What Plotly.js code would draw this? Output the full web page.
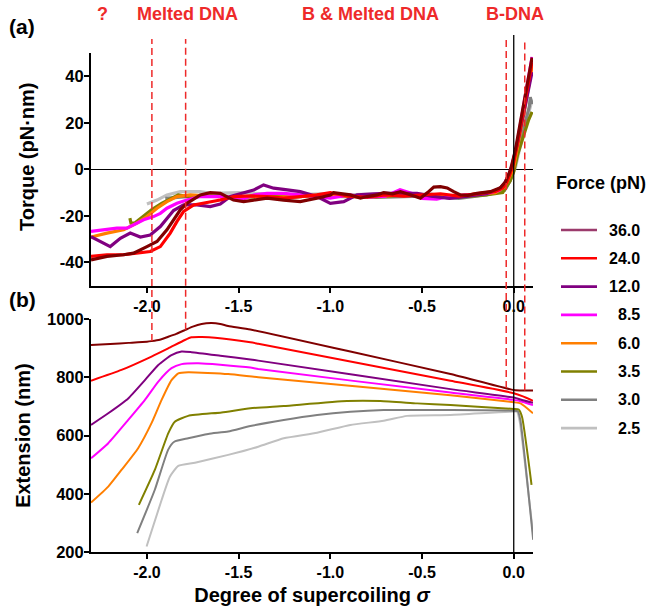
<!DOCTYPE html>
<html>
<head>
<meta charset="utf-8">
<script src="https://cdn.plot.ly/plotly-3.0.1.min.js"></script>
<style>html,body{margin:0;padding:0;background:#fff}</style>
</head>
<body>
<div id="chart" style="width:656px;height:612px"></div>
<script>
// Pulling force for each trace (pN) and its colour
const forces = ['36.0', '24.0', '12.0', '8.5', '6.0', '3.5', '3.0', '2.5'];
const curveColors = ['#800000', '#ff0000', '#800080', '#ff00ff', '#ff7f00', '#808000', '#808080', '#c0c0c0'];
const swatchColors = ['#9b3b6c', '#ff0000', '#800080', '#ff00ff', '#ff7f00', '#808000', '#808080', '#c0c0c0'];

// Axis ticks
const sigmaTicks = [-2.0, -1.5, -1.0, -0.5, 0.0];
const sigmaTickText = ['-2.0', '-1.5', '-1.0', '-0.5', '0.0'];
const torqueTicks = [-40, -20, 0, 20, 40];
const torqueTickText = ['-40', '-20', '0', '20', '40'];
const extTicks = [200, 400, 600, 800, 1000];
const extTickText = ['200', '400', '600', '800', '1000'];

// Phase boundaries (sigma) and region labels
const phaseBounds = [-1.973, -1.789, -0.041, 0.060];
const phaseLabels = ['?', 'Melted DNA', 'B &amp; Melted DNA', 'B-DNA'];

// Torque (pN·nm) vs supercoiling density, [sigma, torque]
const torque36 = [[-2.305,-38.9],[-2.218,-37.4],[-2.128,-36.7],[-2.073,-36.0],[-2.0,-33.2],[-1.945,-31.0],[-1.891,-26.0],[-1.855,-21.7],[-1.818,-17.4],[-1.782,-14.6],[-1.709,-11.0],[-1.655,-10.0],[-1.6,-10.3],[-1.528,-13.2],[-1.473,-13.9],[-1.418,-13.2],[-1.345,-12.4],[-1.255,-13.2],[-1.164,-13.9],[-1.073,-12.4],[-1.0,-11.0],[-0.982,-10.0],[-0.927,-10.5],[-0.891,-11.0],[-0.836,-12.4],[-0.8,-11.7],[-0.745,-11.0],[-0.709,-10.0],[-0.66,-10.5],[-0.618,-9.6],[-0.56,-11.0],[-0.509,-12.4],[-0.47,-10.0],[-0.436,-7.6],[-0.4,-7.4],[-0.363,-8.0],[-0.33,-9.5],[-0.291,-11.0],[-0.25,-11.2],[-0.2,-10.3],[-0.127,-9.6],[-0.073,-7.9],[-0.045,-5.3],[-0.018,-0.3],[0.009,8.3],[0.055,28.0],[0.1,48.0]];
const torque24 = [[-2.305,-37.4],[-2.218,-36.7],[-2.128,-36.7],[-2.036,-36.0],[-1.982,-35.3],[-1.927,-33.2],[-1.873,-27.4],[-1.836,-22.4],[-1.8,-18.1],[-1.745,-15.3],[-1.673,-14.3],[-1.6,-13.2],[-1.527,-11.7],[-1.436,-11.4],[-1.345,-11.7],[-1.255,-12.4],[-1.164,-11.7],[-1.073,-11.0],[-1.0,-10.0],[-0.9,-11.5],[-0.8,-12.0],[-0.7,-11.0],[-0.6,-11.5],[-0.5,-11.0],[-0.4,-10.5],[-0.3,-11.5],[-0.2,-10.5],[-0.1,-9.5],[-0.06,-8.0],[-0.04,-6.0],[-0.02,-2.0],[0.0,3.0],[0.02,11.0],[0.05,24.0],[0.08,37.0],[0.1,46.0]];
const torque12 = [[-2.305,-28.9],[-2.255,-31.0],[-2.2,-33.2],[-2.145,-29.6],[-2.091,-27.4],[-2.036,-29.1],[-1.982,-28.2],[-1.927,-24.6],[-1.891,-21.0],[-1.855,-17.7],[-1.8,-15.3],[-1.727,-15.3],[-1.655,-16.0],[-1.6,-14.9],[-1.545,-11.7],[-1.473,-10.0],[-1.418,-8.9],[-1.364,-6.7],[-1.309,-8.1],[-1.255,-8.6],[-1.164,-9.6],[-1.073,-11.7],[-1.0,-14.6],[-0.927,-13.9],[-0.854,-11.0],[-0.709,-10.3],[-0.527,-10.3],[-0.45,-11.5],[-0.35,-12.5],[-0.25,-11.5],[-0.15,-10.5],[-0.08,-8.5],[-0.05,-6.0],[-0.03,-3.0],[-0.01,1.5],[0.02,11.0],[0.05,22.0],[0.08,33.0],[0.1,41.8]];
const torque8p5 = [[-2.305,-26.7],[-2.236,-26.0],[-2.164,-25.3],[-2.109,-25.3],[-2.073,-23.9],[-2.018,-21.7],[-1.964,-20.3],[-1.927,-18.9],[-1.891,-16.7],[-1.836,-14.6],[-1.782,-13.2],[-1.709,-11.7],[-1.636,-11.7],[-1.564,-11.7],[-1.491,-13.2],[-1.418,-11.0],[-1.345,-10.3],[-1.255,-10.3],[-1.164,-11.0],[-1.073,-11.7],[-1.0,-12.4],[-0.9,-11.0],[-0.8,-12.0],[-0.7,-11.5],[-0.62,-8.8],[-0.55,-10.5],[-0.5,-12.5],[-0.42,-12.8],[-0.35,-11.5],[-0.25,-11.0],[-0.15,-10.5],[-0.08,-9.0],[-0.05,-6.5],[-0.03,-3.0],[-0.01,1.0],[0.02,12.0],[0.05,25.0],[0.08,39.0],[0.1,48.3]];
const torque6 = [[-2.305,-29.1],[-2.218,-27.4],[-2.127,-26.0],[-2.055,-23.1],[-2.0,-20.3],[-1.945,-16.7],[-1.891,-13.9],[-1.836,-11.7],[-1.764,-11.0],[-1.673,-11.4],[-1.564,-12.0],[-1.436,-11.7],[-1.3,-12.0],[-1.15,-11.5],[-1.0,-11.0],[-0.85,-11.8],[-0.7,-11.5],[-0.55,-10.5],[-0.4,-11.5],[-0.25,-11.0],[-0.1,-10.0],[-0.05,-7.5],[-0.03,-4.5],[0.0,1.0],[0.03,13.0],[0.06,26.0],[0.1,44.0]];
const torque3p5 = [[-2.093,-21.0],[-2.087,-23.1],[-2.066,-23.1],[-2.011,-19.6],[-1.975,-17.4],[-1.92,-14.6],[-1.866,-12.4],[-1.829,-11.0],[-1.775,-11.7],[-1.65,-11.5],[-1.5,-12.0],[-1.35,-11.5],[-1.2,-12.0],[-1.05,-11.0],[-0.9,-11.5],[-0.75,-12.0],[-0.6,-11.0],[-0.45,-11.5],[-0.3,-12.0],[-0.15,-11.0],[-0.06,-10.0],[-0.02,-5.0],[0.0,-1.0],[0.02,6.0],[0.05,14.0],[0.08,21.0],[0.1,24.7]];
const torque3 = [[-1.9,-12.5],[-1.8,-11.8],[-1.7,-11.5],[-1.5,-11.8],[-1.3,-12.0],[-1.1,-11.5],[-0.9,-11.6],[-0.7,-12.0],[-0.5,-11.5],[-0.3,-12.5],[-0.15,-11.0],[-0.05,-9.0],[-0.02,-5.0],[0.0,0.0],[0.03,10.0],[0.06,20.0],[0.085,27.0],[0.09,31.0],[0.1,28.0]];
const torque2p5 = [[-2.0,-14.9],[-1.945,-13.2],[-1.891,-11.0],[-1.818,-9.6],[-1.709,-9.6],[-1.65,-10.3],[-1.5,-10.0],[-1.35,-10.5],[-1.2,-11.0],[-1.05,-10.5],[-0.9,-11.0],[-0.75,-10.5],[-0.6,-11.0],[-0.45,-10.5],[-0.35,-12.5],[-0.25,-11.0],[-0.12,-10.0],[-0.04,-8.0],[-0.01,-3.0],[0.01,1.0],[0.03,8.0],[0.06,18.0],[0.09,27.0],[0.1,30.0]];

// Extension (nm) vs supercoiling density, [sigma, extension]
const ext36 = [[-2.305,912],[-2.2,915],[-2.1,919],[-2.0,923],[-1.975,925],[-1.93,930],[-1.884,940],[-1.84,950],[-1.793,963],[-1.75,975],[-1.702,984],[-1.648,987],[-1.6,984],[-1.557,977],[-1.436,965],[-0.891,889],[-0.345,812],[0.0,757],[0.05,755],[0.105,755]];
const ext24 = [[-2.305,789],[-2.139,826],[-1.975,872],[-1.884,900],[-1.793,929],[-1.757,938],[-1.7,939],[-1.629,937],[-1.436,921],[-1.393,916],[-0.345,789],[0.0,746],[0.05,735],[0.105,720]];
const ext12 = [[-2.305,637],[-2.211,677],[-2.102,728],[-2.011,791],[-1.938,843],[-1.866,877],[-1.811,889],[-1.757,887],[-1.6,875],[-1.436,862],[-1.393,858],[-0.345,760],[0.0,731],[0.05,722],[0.105,713]];
const ext8p5 = [[-2.305,522],[-2.211,574],[-2.102,654],[-2.011,723],[-1.938,786],[-1.866,832],[-1.811,846],[-1.72,849],[-1.6,844],[-1.436,834],[-1.393,829],[-0.345,748],[0.0,723],[0.05,716],[0.105,705]];
const ext6 = [[-2.305,370],[-2.211,425],[-2.139,482],[-2.048,557],[-1.975,643],[-1.92,723],[-1.866,791],[-1.829,814],[-1.775,818],[-1.557,812],[-1.393,801],[-0.345,739],[0.0,715],[0.037,711],[0.105,677]];
const ext3p5 = [[-2.044,362],[-1.957,482],[-1.884,608],[-1.848,648],[-1.775,668],[-1.593,680],[-1.436,694],[-1.254,702],[-0.909,719],[-0.727,719],[-0.527,711],[-0.345,705],[0.0,692],[0.027,690],[0.045,665],[0.097,431]];
const ext3 = [[-2.053,265],[-1.957,414],[-1.884,552],[-1.851,579],[-1.775,591],[-1.666,606],[-1.557,614],[-1.436,633],[-1.254,654],[-1.072,671],[-0.891,682],[-0.709,688],[-0.345,688],[0.0,686],[0.022,684],[0.036,654],[0.106,242]];
const ext2p5 = [[-2.002,219],[-1.92,379],[-1.875,459],[-1.829,496],[-1.738,507],[-1.557,534],[-1.393,562],[-1.254,591],[-1.072,610],[-0.891,637],[-0.709,651],[-0.582,668],[-0.345,671],[0.0,683],[0.018,682],[0.032,650],[0.104,270]];

const torqueSets = [torque36, torque24, torque12, torque8p5, torque6, torque3p5, torque3, torque2p5];
const extSets = [ext36, ext24, ext12, ext8p5, ext6, ext3p5, ext3, ext2p5];

// ---- layout geometry ----
const W = 656, H = 612;
const M = {l: 91, r: 123, t: 53, b: 60};
const sigmaRange = [-2.305, 0.105];
const domA = [0.5337, 1.0];
const domB = [0.0, 0.4663];
const rangeA = [-50, 50];
const rangeB = [200, 1000];
const plotW = W - M.l - M.r, plotH = H - M.t - M.b;
const PX = px => (px - M.l) / plotW;        // page pixel -> paper x
const PY = py => (H - M.b - py) / plotH;    // page pixel -> paper y

const FONT = 'Liberation Sans, Arial, Helvetica, sans-serif';
const RED = '#ee2a2a';

// ---- traces, low force drawn first so high force sits on top ----
const traces = [];
for (let i = forces.length - 1; i >= 0; i--) {
  const t = torqueSets[i];
  traces.push({
    type: 'scatter', mode: 'lines', name: forces[i] + ' pN',
    x: t.map(p => p[0]), y: t.map(p => p[1]),
    xaxis: 'x', yaxis: 'y', showlegend: false,
    line: {color: curveColors[i], width: 3.2}
  });
}
for (let i = forces.length - 1; i >= 0; i--) {
  const e = extSets[i];
  traces.push({
    type: 'scatter', mode: 'lines', name: forces[i] + ' pN',
    x: e.map(p => p[0]), y: e.map(p => p[1]),
    xaxis: 'x2', yaxis: 'y2', showlegend: false,
    line: {color: curveColors[i], width: 2, shape: 'spline', smoothing: 0.5}
  });
}

// extension of the 36 pN curve at a given sigma (linear between readings)
function ext36At(s) {
  for (let k = 0; k < ext36.length - 1; k++) {
    const a = ext36[k], b = ext36[k + 1];
    if (s >= a[0] && s <= b[0]) return a[1] + (b[1] - a[1]) * (s - a[0]) / (b[0] - a[0]);
  }
  return ext36[ext36.length - 1][1];
}
const extToPaper = v => domB[0] + (v - rangeB[0]) / (rangeB[1] - rangeB[0]) * (domB[1] - domB[0]);

const shapes = [];
// phase boundary guides, from the top label row down to the 36 pN extension curve
phaseBounds.forEach(s => {
  shapes.push({type: 'line', xref: 'x', yref: 'paper', x0: s, x1: s,
    y0: extToPaper(ext36At(s)), y1: PY(39),
    line: {color: RED, width: 1.5, dash: '7px,4px'}});
});
// sigma = 0 marker through both panels
shapes.push({type: 'line', xref: 'x', yref: 'paper', x0: 0, x1: 0, y0: 0, y1: PY(35),
  line: {color: '#000', width: 1.3}});

const annotations = [];
const labelX = [102, 187, 370, 515];
phaseLabels.forEach((txt, k) => {
  annotations.push({xref: 'paper', yref: 'paper', x: PX(labelX[k]), y: PY(14),
    text: txt, showarrow: false, xanchor: 'center', yanchor: 'middle',
    font: {family: FONT, size: 18, color: RED, weight: 'bold'}});
});
annotations.push({xref: 'paper', yref: 'paper', x: PX(22), y: PY(26), text: '(a)', showarrow: false,
  xanchor: 'center', yanchor: 'middle', font: {family: FONT, size: 21, color: '#000', weight: 'bold'}});
annotations.push({xref: 'paper', yref: 'paper', x: PX(22), y: PY(299), text: '(b)', showarrow: false,
  xanchor: 'center', yanchor: 'middle', font: {family: FONT, size: 21, color: '#000', weight: 'bold'}});
// torque axis title, set slightly above the panel centre
annotations.push({xref: 'paper', yref: 'paper', x: PX(27), y: PY(157), text: 'Torque (pN·nm)', showarrow: false,
  textangle: -90, xanchor: 'center', yanchor: 'middle', font: {family: FONT, size: 20, color: '#000', weight: 'bold'}});

// legend block
annotations.push({xref: 'paper', yref: 'paper', x: PX(601), y: PY(183), text: 'Force (pN)', showarrow: false,
  xanchor: 'center', yanchor: 'middle', font: {family: FONT, size: 18, color: '#000', weight: 'bold'}});
forces.forEach((f, i) => {
  const rowY = PY(230 + i * 28.3);
  shapes.push({type: 'line', xref: 'paper', yref: 'paper', x0: PX(561), x1: PX(597), y0: rowY, y1: rowY,
    line: {color: swatchColors[i], width: 2.6}});
  annotations.push({xref: 'paper', yref: 'paper', x: PX(642), y: rowY, text: f, showarrow: false,
    xanchor: 'right', yanchor: 'middle', font: {family: FONT, size: 16, color: '#000', weight: 'bold'}});
});

const axisCommon = {
  showline: true, linecolor: '#000', linewidth: 2, mirror: false,
  ticks: 'outside', ticklen: 5, tickwidth: 2, tickcolor: '#000',
  showgrid: false, zeroline: false,
  tickfont: {family: FONT, size: 16, color: '#000', weight: 'bold'}
};

const layout = {
  width: W, height: H,
  margin: {l: M.l, r: M.r, t: M.t, b: M.b, pad: 0},
  paper_bgcolor: '#fff', plot_bgcolor: '#fff',
  font: {family: FONT, color: '#000', weight: 'bold'},
  showlegend: false,
  xaxis: Object.assign({}, axisCommon, {domain: [0, 1], anchor: 'y', range: sigmaRange,
    tickmode: 'array', tickvals: sigmaTicks, ticktext: sigmaTickText}),
  yaxis: Object.assign({}, axisCommon, {domain: domA, anchor: 'x', range: rangeA,
    tickmode: 'array', tickvals: torqueTicks, ticktext: torqueTickText, ticklabelstandoff: -3,
    tickfont: {family: FONT, size: 16.5, color: '#000', weight: 'bold'},
    zeroline: true, zerolinecolor: '#000', zerolinewidth: 1.3}),
  xaxis2: Object.assign({}, axisCommon, {domain: [0, 1], anchor: 'y2', range: sigmaRange,
    tickmode: 'array', tickvals: sigmaTicks, ticktext: sigmaTickText,
    title: {text: 'Degree of supercoiling <i>σ</i>', font: {family: FONT, size: 20, weight: 'bold'}, standoff: 8}}),
  yaxis2: Object.assign({}, axisCommon, {domain: domB, anchor: 'x2', range: rangeB,
    tickmode: 'array', tickvals: extTicks, ticktext: extTickText, ticklabelstandoff: -3,
    tickfont: {family: FONT, size: 16.5, color: '#000', weight: 'bold'},
    title: {text: 'Extension (nm)', font: {family: FONT, size: 20, weight: 'bold'}, standoff: 11}}),
  shapes: shapes,
  annotations: annotations
};

Plotly.newPlot('chart', traces, layout, {displayModeBar: false, staticPlot: true});
</script>
</body>
</html>
